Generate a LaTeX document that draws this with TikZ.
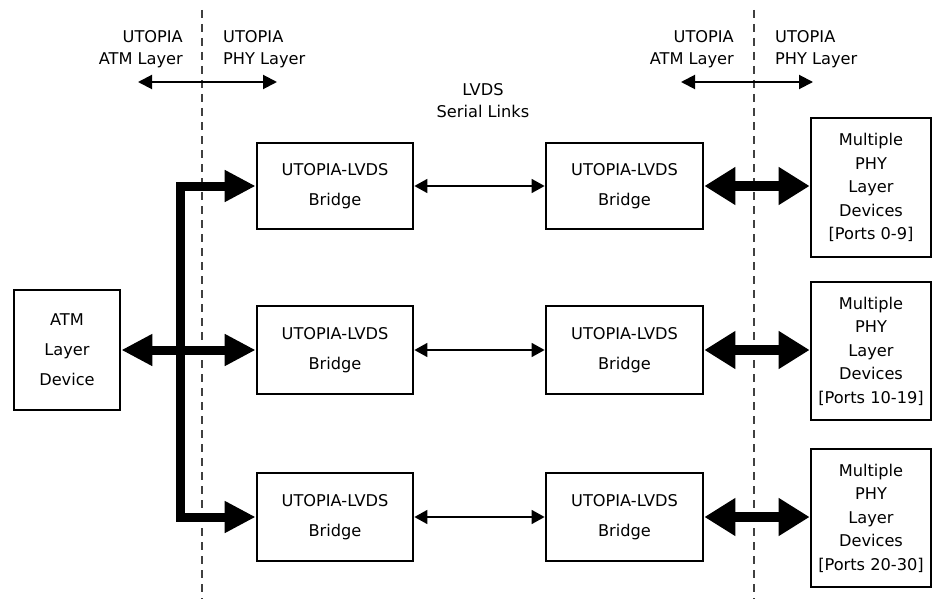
\documentclass[tikz,border=0pt]{standalone}
\usepackage{fontspec}
\setmainfont{DejaVu Sans}
\usetikzlibrary{arrows.meta}
\tikzset{
  blk/.style={draw, line width=2.8pt, align=center, inner sep=0pt},
  bus/.style={line width=9pt, line join=miter,
    {Triangle[length=31pt,width=30pt]}-{Triangle[length=31pt,width=30pt]}},
  phybus/.style={line width=10pt,
    {Triangle[length=31pt,width=36pt]}-{Triangle[length=31pt,width=36pt]}},
  link/.style={line width=1.6pt,
    {Triangle[length=13pt,width=14pt]}-{Triangle[length=13pt,width=14pt]}},
  span/.style={line width=2pt,
    {Triangle[length=14pt,width=14pt]}-{Triangle[length=14pt,width=14pt]}},
  border/.style={dashed, dash pattern=on 8pt off 6pt, line width=1.4pt, black!75},
  lbl/.style={font=\fontsize{16.2}{22}\selectfont, inner sep=0pt}
}
\begin{document}
\begin{tikzpicture}[x=1pt,y=-1pt]
  \useasboundingbox (0,0) rectangle (933,599);
  % layer borders
  \coordinate (ltop) at (202,10);
  \coordinate (lbot) at (202,599);
  \coordinate (rtop) at (754,10);
  \coordinate (rbot) at (754,599);
  \draw[border] (ltop) -- (lbot);
  \draw[border] (rtop) -- (rbot);
  % layer labels
  \node[lbl, align=right, anchor=east] (latm) at (183,49) {UTOPIA\\ATM Layer};
  \node[lbl, align=left, anchor=west] (lphy) at (223,49) {UTOPIA\\PHY Layer};
  \node[lbl, align=right, anchor=east] (ratm) at (734,49) {UTOPIA\\ATM Layer};
  \node[lbl, align=left, anchor=west] (rphy) at (775,49) {UTOPIA\\PHY Layer};
  \coordinate (la) at (138,82);
  \coordinate (lb) at (277,82);
  \coordinate (ra) at (681,82);
  \coordinate (rb) at (813,82);
  \draw[span] (la) -- (lb);
  \draw[span] (ra) -- (rb);
  \node[lbl, align=center] (lvds) at (483,101) {LVDS\\Serial Links};
  % devices
  \node[blk, minimum width=106pt, minimum height=120pt,
    font=\fontsize{16.2}{30}\selectfont] (atm) at (67,350) {ATM\\Layer\\Device};
  \node[blk, minimum width=156pt, minimum height=86pt,
    font=\fontsize{16.2}{30}\selectfont] (bl1) at (335,186) {UTOPIA-LVDS\\Bridge};
  \node[blk, minimum width=156pt, minimum height=88pt,
    font=\fontsize{16.2}{30}\selectfont] (bl2) at (335,350) {UTOPIA-LVDS\\Bridge};
  \node[blk, minimum width=156pt, minimum height=88pt,
    font=\fontsize{16.2}{30}\selectfont] (bl3) at (335,517) {UTOPIA-LVDS\\Bridge};
  \node[blk, minimum width=157pt, minimum height=86pt,
    font=\fontsize{16.2}{30}\selectfont] (br1) at (624.5,186) {UTOPIA-LVDS\\Bridge};
  \node[blk, minimum width=157pt, minimum height=88pt,
    font=\fontsize{16.2}{30}\selectfont] (br2) at (624.5,350) {UTOPIA-LVDS\\Bridge};
  \node[blk, minimum width=157pt, minimum height=88pt,
    font=\fontsize{16.2}{30}\selectfont] (br3) at (624.5,517) {UTOPIA-LVDS\\Bridge};
  \node[blk, minimum width=120pt, minimum height=139pt,
    font=\fontsize{16.2}{23.5}\selectfont] (phy1) at (871,187.5)
    {Multiple\\PHY\\Layer\\Devices\\{[}Ports 0-9{]}};
  \node[blk, minimum width=120pt, minimum height=138pt,
    font=\fontsize{16.2}{23.5}\selectfont] (phy2) at (871,351)
    {Multiple\\PHY\\Layer\\Devices\\{[}Ports 10-19{]}};
  \node[blk, minimum width=120pt, minimum height=138pt,
    font=\fontsize{16.2}{23.5}\selectfont] (phy3) at (871,518)
    {Multiple\\PHY\\Layer\\Devices\\{[}Ports 20-30{]}};
  % connections
  \coordinate (bustop) at (180,186);
  \coordinate (busbot) at (180,517);
  \draw[bus] (bl1.west) -- (bustop) -- (busbot) -- (bl3.west);
  \draw[bus] (atm.east) -- (bl2.west);
  \draw[link] (bl1) -- (br1);
  \draw[link] (bl2) -- (br2);
  \draw[link] (bl3) -- (br3);
  \draw[phybus] (br1.east) -- (br1.east -| phy1.west);
  \draw[phybus] (br2.east) -- (br2.east -| phy2.west);
  \draw[phybus] (br3.east) -- (br3.east -| phy3.west);
\end{tikzpicture}
\end{document}
